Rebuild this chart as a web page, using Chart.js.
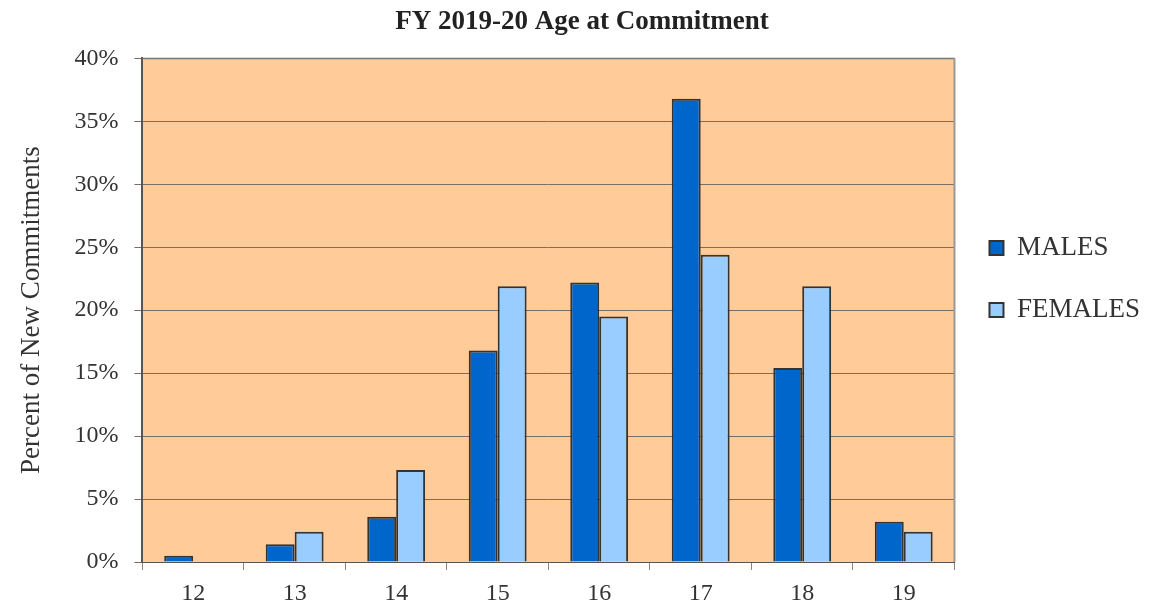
<!DOCTYPE html>
<html>
<head>
<meta charset="utf-8">
<script src="https://cdn.jsdelivr.net/npm/chart.js@4.4.1/dist/chart.umd.min.js"></script>
<style>
  html, body { margin: 0; padding: 0; background: #fff; }
  #wrap { width: 1150px; height: 602px; position: relative; }
</style>
</head>
<body>
<div id="wrap"><canvas id="chart-edad" width="1150" height="602"></canvas></div>
<script>
  'use strict';

  // datos (porcentaje)
  var ageLabels = ['12', '13', '14', '15', '16', '17', '18', '19'];
  var malesPct = [0.5, 1.4, 3.6, 16.8, 22.2, 36.8, 15.4, 3.2];
  var femalesPct = [0, 2.4, 7.3, 21.9, 19.5, 24.4, 21.9, 2.4];

  var SERIF = "'Liberation Serif', 'DejaVu Serif', serif";

  // fondo naranja del area de trazado + marco
  var plotBg = {
    id: 'plotBg',
    beforeDraw: function (chart) {
      var a = chart.chartArea;
      var c = chart.ctx;
      c.save();
      c.fillStyle = '#FFCC99';
      c.fillRect(a.left, a.top, a.right - a.left, a.bottom - a.top);
      c.restore();
    },
    afterDraw: function (chart) {
      var a = chart.chartArea;
      var c = chart.ctx;
      c.save();
      c.strokeStyle = '#777';
      c.lineWidth = 1.5;
      c.beginPath();
      c.moveTo(a.left, a.top);
      c.lineTo(a.right, a.top);
      c.stroke();
      c.strokeStyle = '#999';
      c.lineWidth = 2;
      c.beginPath();
      c.moveTo(a.right, a.top);
      c.lineTo(a.right, a.bottom);
      c.stroke();
      c.restore();
    }
  };

  new Chart(document.getElementById('chart-edad'), {
    type: 'bar',
    data: {
      labels: ageLabels,
      datasets: [
        {
          label: 'MALES',
          data: malesPct,
          backgroundColor: '#0066CC',
          borderColor: '#333333',
          borderWidth: 2
        },
        {
          label: 'FEMALES',
          data: femalesPct,
          backgroundColor: '#99CCFF',
          borderColor: '#333333',
          borderWidth: 2
        }
      ]
    },
    options: {
      responsive: false,
      animation: false,
      layout: { padding: { left: 14, right: 0, top: 0, bottom: -16 } },
      datasets: {
        bar: { barPercentage: 1.0, categoryPercentage: 0.57 }
      },
      scales: {
        x: {
          grid: { drawOnChartArea: false, drawTicks: true, tickLength: 8, color: '#888' },
          border: { color: '#555', width: 1 },
          ticks: {
            color: '#333',
            font: { family: SERIF, size: 24, lineHeight: 1 },
            padding: 12,
            maxRotation: 0
          }
        },
        y: {
          min: 0,
          max: 40,
          grid: { color: '#7a6e62', lineWidth: 1, tickLength: 8, drawTicks: true },
          border: { color: '#555', width: 2 },
          ticks: {
            stepSize: 5,
            color: '#333',
            font: { family: SERIF, size: 24 },
            padding: 16,
            callback: function (v) { return v + '%'; }
          },
          title: {
            display: true,
            text: 'Percent of New Commitments',
            color: '#333',
            font: { family: SERIF, size: 27 },
            padding: { top: 2, bottom: 10 }
          }
        }
      },
      plugins: {
        title: {
          display: true,
          text: 'FY 2019-20 Age at Commitment',
          color: '#222',
          font: { family: SERIF, size: 27, weight: 'bold' },
          padding: { top: 6, bottom: 20 }
        },
        legend: {
          position: 'right',
          align: 'start',
          // titulo vacio solo para bajar los items a la altura del original
          title: { display: true, text: ' ', font: { size: 12 }, padding: { top: 185, bottom: 0 } },
          labels: {
            color: '#333',
            font: { family: SERIF, size: 27 },
            boxWidth: 14,
            boxHeight: 14,
            padding: 35
          }
        },
        tooltip: { enabled: false }
      }
    },
    plugins: [plotBg]
  });
</script>
</body>
</html>
